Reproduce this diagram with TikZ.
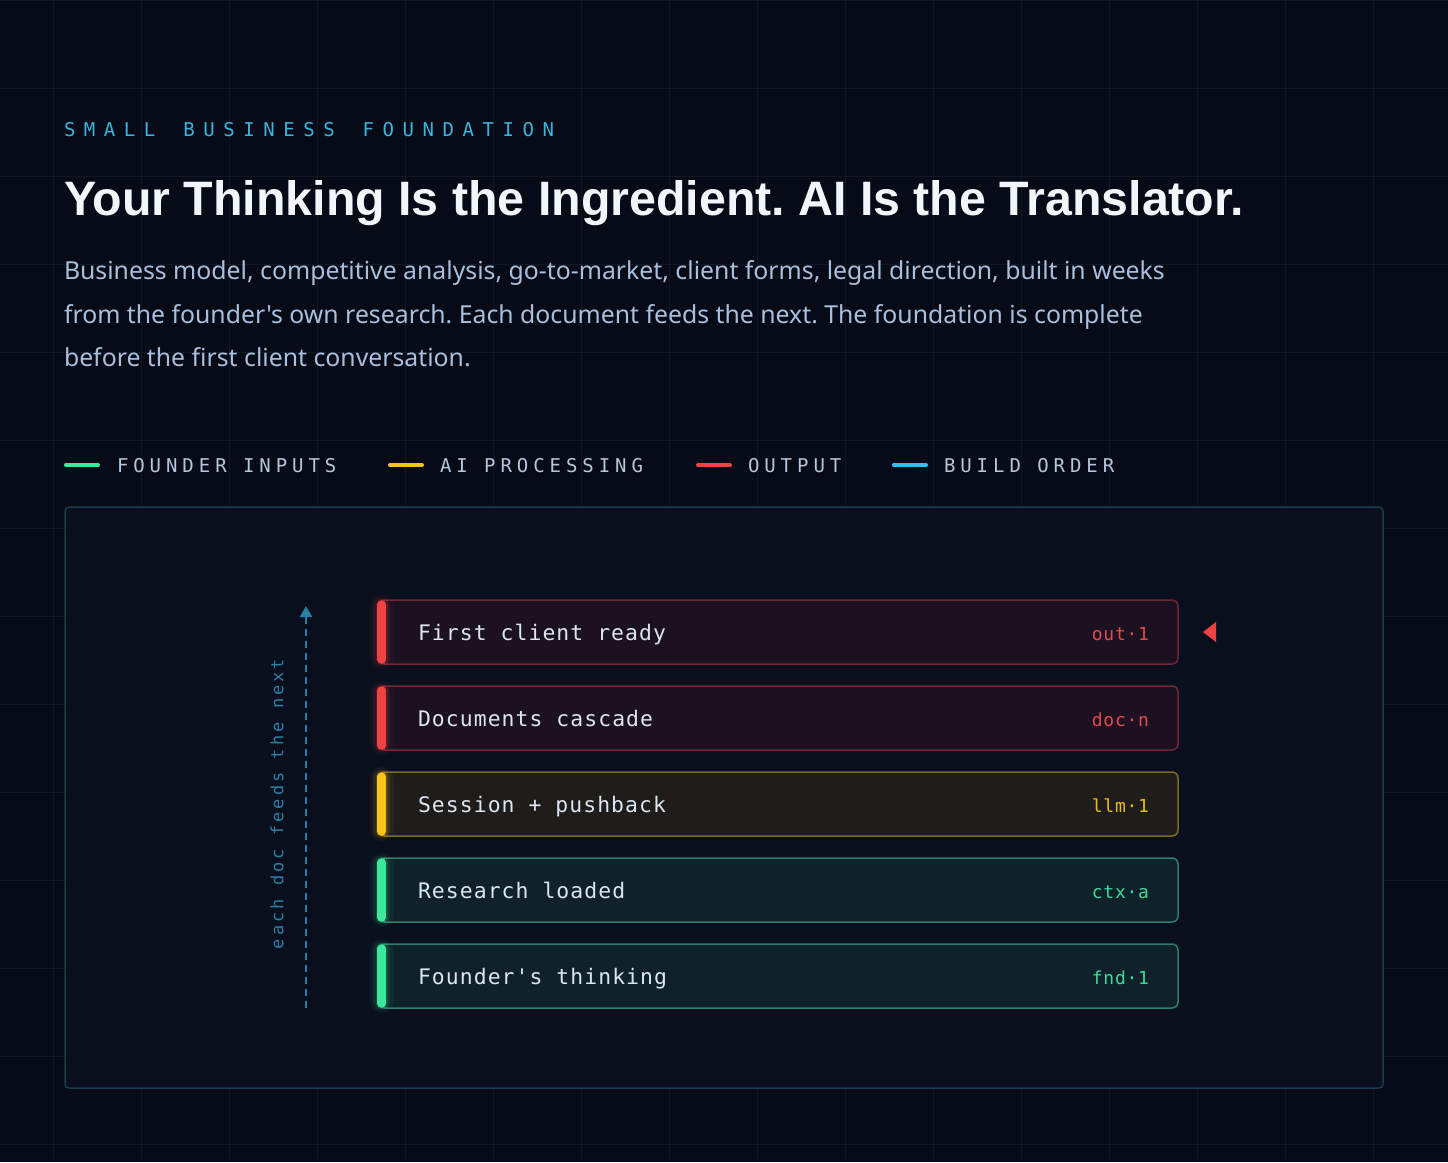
\documentclass[tikz,border=0pt]{standalone}
\usepackage{fontspec}
\usetikzlibrary{arrows.meta,calc}
\setmainfont[Ligatures=TeXOff]{Liberation Sans}
\newfontfamily\titlef[Ligatures=TeXOff]{Liberation Sans}
\newfontfamily\paraf[Ligatures=TeXOff]{Noto Sans}
\newfontfamily\monohead[LetterSpace=45]{DejaVu Sans Mono}
\newfontfamily\monoleg[LetterSpace=26]{DejaVu Sans Mono}
\newfontfamily\monorow[LetterSpace=5,Ligatures=TeXOff]{DejaVu Sans Mono}
\newfontfamily\monotag[LetterSpace=4]{DejaVu Sans Mono}
\newfontfamily\monovert[LetterSpace=18]{DejaVu Sans Mono}
\frenchspacing
\definecolor{bgc}{HTML}{070B17}
\definecolor{gridc}{HTML}{101725}
\definecolor{panelF}{HTML}{0A0F1E}
\definecolor{panelB}{HTML}{1B3A4E}
\definecolor{RA}{HTML}{EF4343}
\definecolor{RB}{HTML}{6E2835}
\definecolor{RF}{HTML}{1C1120}
\definecolor{RT}{HTML}{E5484D}
\definecolor{YA}{HTML}{F7C51A}
\definecolor{YB}{HTML}{7D6B1F}
\definecolor{YF}{HTML}{1E1D1A}
\definecolor{YT}{HTML}{E8BD1C}
\definecolor{GA}{HTML}{3CE89C}
\definecolor{GB}{HTML}{2E7D6C}
\definecolor{GF}{HTML}{0F2229}
\definecolor{GT}{HTML}{3DD99A}
\definecolor{BA}{HTML}{38BDF8}
\definecolor{labc}{HTML}{DCE5F1}
\definecolor{headc}{HTML}{3AB4DC}
\definecolor{titlec}{HTML}{F2F5FA}
\definecolor{parac}{HTML}{A9BFDB}
\definecolor{legc}{HTML}{B6C6DA}
\definecolor{flowc}{HTML}{2A7FA6}
\tikzset{
  gridl/.style={draw=gridc, line width=1pt},
  headtext/.style={text=headc, font=\monohead\fontsize{19}{22}\selectfont},
  titletext/.style={text=titlec, font=\titlef\bfseries\fontsize{48.3}{56}\selectfont},
  paratext/.style={text=parac, font=\paraf\fontsize{24.8}{30}\selectfont},
  legtext/.style={text=legc, font=\monoleg\fontsize{19}{22}\selectfont},
  legline/.style={line width=4pt, line cap=round},
  panelbox/.style={draw=panelB, fill=panelF, rounded corners=4pt, line width=1.5pt},
  rowbox/.style={rounded corners=6pt, line width=1.5pt, minimum width=799pt, minimum height=64pt},
  rowtext/.style={text=labc, font=\monorow\fontsize{21.4}{24}\selectfont},
  tagtext/.style={font=\monotag\fontsize{18}{22}\selectfont},
  vtext/.style={text=flowc, font=\monovert\fontsize{17}{20}\selectfont},
  flow/.style={draw=flowc, line width=2pt, dash pattern=on 7pt off 5pt, -{Triangle[length=11pt,width=12pt]}},
  every node/.style={inner sep=0pt, outer sep=0pt}
}
\begin{document}
\begin{tikzpicture}[x=1pt,y=-1pt]
\fill[bgc] (0,0) rectangle (1448,1162);
\useasboundingbox (0,0) rectangle (1448,1162);
\foreach \k in {0,...,15} \draw[gridl] (53+88*\k,0) -- (53+88*\k,1162);
\foreach \k in {0,...,13} \draw[gridl] (0,88*\k) -- (1448,88*\k);
% header
\node[headtext, anchor=base west] (head) at (64,136) {SMALL\hspace{8pt} BUSINESS\hspace{8pt} FOUNDATION};
\node[titletext, anchor=base west] (title) at (64,215) {Your Thinking Is the Ingredient. AI Is the Translator.};
\node[paratext, anchor=base west] (para1) at (64,279) {Business model, competitive analysis, go-to-market, client forms, legal direction, built in weeks};
\node[paratext, anchor=base west] (para2) at (64,323) {from the founder's own research. Each document feeds the next. The foundation is complete};
\node[paratext, anchor=base west] (para3) at (64,366) {before the first client conversation.};
% legend
\draw[legline, GA] (66,465) -- (98,465);
\node[legtext, anchor=base west] (lg1) at (117,472) {FOUNDER INPUTS};
\draw[legline, YA] (390,465) -- (422,465);
\node[legtext, anchor=base west] (lg2) at (440,472) {AI PROCESSING};
\draw[legline, RA] (698,465) -- (730,465);
\node[legtext, anchor=base west] (lg3) at (748,472) {OUTPUT};
\draw[legline, BA] (894,465) -- (926,465);
\node[legtext, anchor=base west] (lg4) at (944,472) {BUILD ORDER};
% panel
\node[panelbox, minimum width=1318pt, minimum height=581pt] (panel) at (724,797.5) {};
% rows
\foreach \i/\lab/\tag/\c in {1/First client ready/out·1/R, 2/Documents cascade/doc·n/R, 3/Session + pushback/llm·1/Y, 4/Research loaded/ctx·a/G, 5/Founder's thinking/fnd·1/G} {
  \pgfmathsetmacro\yy{632+86*(\i-1)}
  \node[rowbox, draw=\c B, fill=\c F] (row\i) at (778.5,\yy) {};
  \draw[line width=24pt, \c A, opacity=0.05, line cap=round] (381.5,\yy-25) -- (381.5,\yy+25);
  \draw[line width=17pt, \c A, opacity=0.09, line cap=round] (381.5,\yy-26) -- (381.5,\yy+26);
  \draw[line width=12pt, \c A, opacity=0.15, line cap=round] (381.5,\yy-27) -- (381.5,\yy+27);
  \draw[line width=8.5pt, \c A, line cap=round] (381.5,\yy-27.5) -- (381.5,\yy+27.5);
  \node[rowtext, anchor=base west] (lab\i) at (418,\yy+8.5) {\lab};
  \node[tagtext, text=\c T, anchor=base east] (tag\i) at (1149,\yy+8.5) {\tag};
}
% build order arrow
\coordinate (flowS) at (306,1008);
\coordinate (flowE) at (306,606);
\draw[flow] (flowS) -- (flowE);
\node[vtext, rotate=90] (vlabel) at (277,804) {each doc feeds the next};
% current marker
\fill[RA] (1203,632) -- (1216,622) -- (1216,642) -- cycle;
\end{tikzpicture}
\end{document}
